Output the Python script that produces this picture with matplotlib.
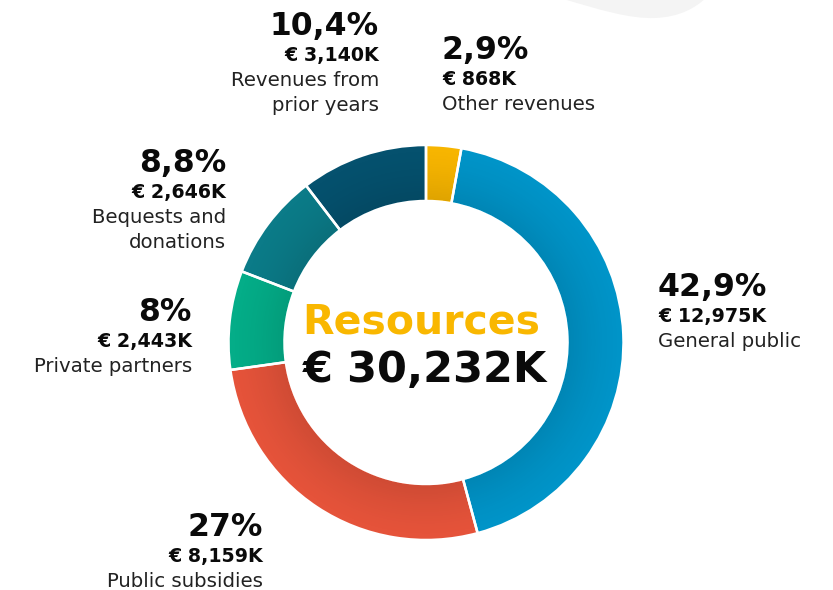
import matplotlib.pyplot as plt
import numpy as np
from matplotlib.patches import PathPatch
from matplotlib.path import Path

# --- data ---
categories = ["Other revenues", "General public", "Public subsidies",
              "Private partners", "Bequests and\ndonations", "Revenues from\nprior years"]
amounts_k = [868, 12975, 8159, 2443, 2646, 3140]
pct_labels = ["2,9%", "42,9%", "27%", "8%", "8,8%", "10,4%"]
amount_labels = ["€ 868K", "€ 12,975K", "€ 8,159K", "€ 2,443K", "€ 2,646K", "€ 3,140K"]
total_label = "€ 30,232K"
colors = ["#F7B500", "#0094C8", "#E5533A", "#04AD88", "#0B7B88", "#05516E"]

# label anchors in pixel coords: x, baseline of the % line, alignment
anchors = [(442, 59, "left"), (658, 296, "left"), (263, 536, "right"),
           (192, 321, "right"), (226, 172, "right"), (379, 35, "right")]

W, H = 833, 590
CX, CY = 426, 342.5
R_OUT, R_IN = 197.5, 141.5

plt.rcParams["font.family"] = ["DejaVu Sans"]

fig = plt.figure(figsize=(W / 100, H / 100), dpi=100)
ax = fig.add_axes([0, 0, 1, 1])

# decorative grey blob at top right
blob = Path([(560, -2), (600, 10), (630, 19), (655, 18),
             (680, 17), (695, 8), (706, -2), (560, -2)],
            [Path.MOVETO, Path.CURVE4, Path.CURVE4, Path.CURVE4,
             Path.CURVE4, Path.CURVE4, Path.CURVE4, Path.CLOSEPOLY])
ax.add_patch(PathPatch(blob, facecolor="#F4F4F4", edgecolor="none", zorder=0))

# y axis is inverted below, so the pie starts at -90 and runs "counterclock"
pie_kw = dict(startangle=-90, counterclock=True, center=(CX, CY), radius=R_OUT)
ax.pie(amounts_k, colors=colors,
       wedgeprops=dict(width=R_OUT - R_IN, edgecolor="none"), **pie_kw)

# subtle darkening toward the inner edge of the ring
yy, xx = np.mgrid[0:H, 0:W] + 0.5
rr = np.hypot(xx - CX, yy - CY)
t = np.clip((R_OUT - rr) / (R_OUT - R_IN), 0, 1)
shade = np.zeros((H, W, 4))
shade[..., 3] = 0.10 * t ** 1.5
shade[(rr > R_OUT) | (rr < R_IN + 1.5), 3] = 0
ax.imshow(shade, extent=(0, W, H, 0), zorder=3, interpolation="nearest")

# white separators on top of the shading
wedges, _ = ax.pie(amounts_k, colors=["none"] * len(amounts_k),
                   wedgeprops=dict(width=R_OUT - R_IN, edgecolor="white", linewidth=1.8,
                                   zorder=4), **pie_kw)

ax.set_xlim(0, W)
ax.set_ylim(H, 0)
ax.set_aspect("equal")
ax.axis("off")

# centre text
ax.text(421, 333, "Resources", ha="center", va="baseline", fontsize=29.5,
        fontweight="bold", color="#F9B700", zorder=5)
ax.text(425, 382, total_label, ha="center", va="baseline", fontsize=31,
        fontweight="bold", color="#0A0A0A", zorder=5)

for (x, y0, ha), pct, amt, cat in zip(anchors, pct_labels, amount_labels, categories):
    ax.text(x, y0, pct, ha=ha, va="baseline", fontsize=22.7, fontweight="bold", color="#0A0A0A")
    ax.text(x, y0 + 26, amt, ha=ha, va="baseline", fontsize=13.7, fontweight="bold", color="#0A0A0A")
    for i, line in enumerate(cat.split("\n")):
        ax.text(x, y0 + 51 + 25 * i, line, ha=ha, va="baseline", fontsize=14.2, color="#222222")

plt.savefig("out.png", dpi=100)
